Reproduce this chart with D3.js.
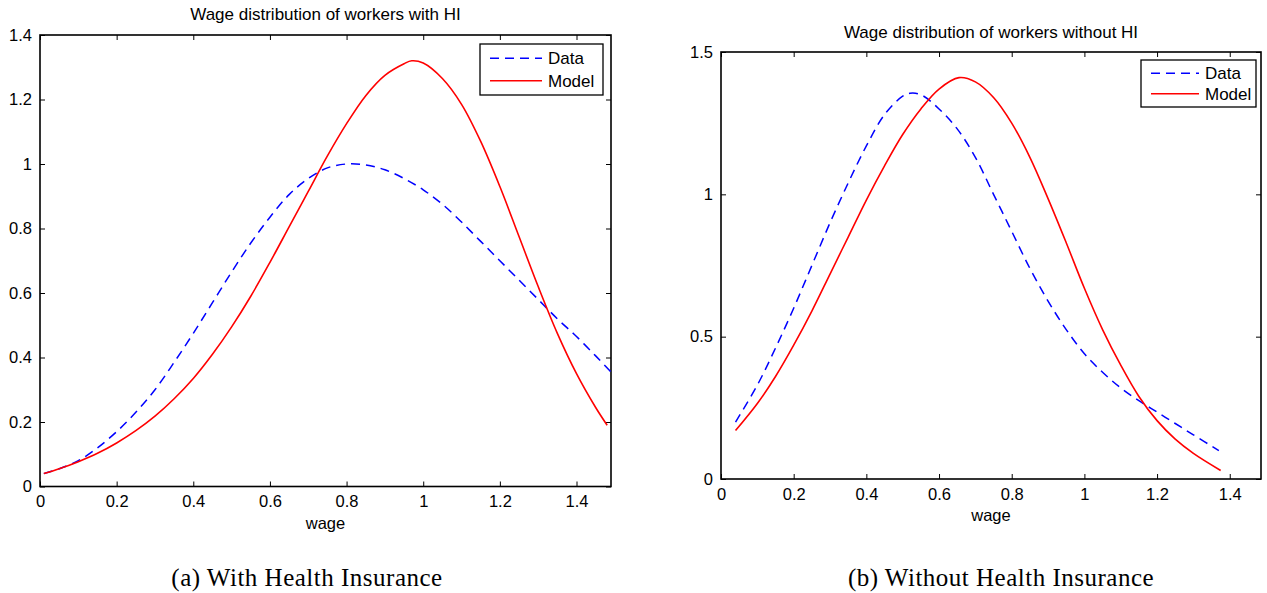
<!DOCTYPE html>
<html><head><meta charset="utf-8">
<script src="https://d3js.org/d3.v7.min.js"></script>
<style>body{margin:0;background:#fff}svg{display:block}</style>
</head><body>
<svg id="c" width="1267" height="593"></svg>
<script>
// Panel (a): with health insurance
const hiDataX  = [0.01,0.05,0.1,0.15,0.2,0.25,0.3,0.35,0.4,0.45,0.5,0.55,0.6,0.65,0.7,0.75,0.8,0.85,0.9,0.95,1.0,1.05,1.1,1.15,1.2,1.25,1.3,1.35,1.4,1.45,1.49];
const hiDataY  = [0.04,0.055,0.08,0.12,0.17,0.23,0.30,0.385,0.475,0.57,0.665,0.755,0.835,0.905,0.955,0.988,1.0,0.997,0.982,0.955,0.92,0.875,0.82,0.76,0.70,0.64,0.58,0.52,0.465,0.405,0.355];
const hiModelX = [0.01,0.05,0.1,0.15,0.2,0.25,0.3,0.35,0.4,0.45,0.5,0.55,0.6,0.65,0.7,0.75,0.8,0.85,0.9,0.95,0.97,1.0,1.05,1.1,1.15,1.2,1.25,1.3,1.35,1.4,1.45,1.48];
const hiModelY = [0.04,0.055,0.077,0.103,0.135,0.173,0.218,0.272,0.335,0.41,0.495,0.59,0.695,0.805,0.915,1.025,1.125,1.212,1.275,1.311,1.32,1.313,1.265,1.185,1.07,0.93,0.775,0.62,0.475,0.35,0.245,0.19];
// Panel (b): without health insurance
const noDataX  = [0.04,0.1,0.15,0.2,0.25,0.3,0.35,0.4,0.45,0.5,0.52,0.55,0.6,0.65,0.7,0.75,0.8,0.85,0.9,0.95,1.0,1.05,1.1,1.15,1.2,1.25,1.3,1.37];
const noDataY  = [0.20,0.33,0.46,0.60,0.75,0.90,1.04,1.17,1.28,1.345,1.355,1.35,1.30,1.23,1.13,1.00,0.87,0.74,0.625,0.525,0.44,0.375,0.32,0.275,0.235,0.195,0.155,0.10];
const noModelX = [0.04,0.1,0.15,0.2,0.25,0.3,0.35,0.4,0.45,0.5,0.55,0.6,0.655,0.7,0.75,0.8,0.85,0.9,0.95,1.0,1.05,1.1,1.15,1.2,1.25,1.3,1.375];
const noModelY = [0.17,0.265,0.36,0.47,0.59,0.72,0.85,0.98,1.10,1.21,1.30,1.37,1.41,1.395,1.34,1.25,1.13,0.985,0.83,0.67,0.525,0.40,0.29,0.205,0.14,0.09,0.03];

const xTicks = [0,0.2,0.4,0.6,0.8,1,1.2,1.4];
const yTicksA = [0,0.2,0.4,0.6,0.8,1,1.2,1.4];
const yTicksB = [0,0.5,1,1.5];
const seriesNames = ["Data","Model"];
const titles = ["Wage distribution of workers with HI","Wage distribution of workers without HI"];
const captions = ["(a) With Health Insurance","(b) Without Health Insurance"];

const svg = d3.select("#c");
const SANS = "'Liberation Sans', Arial, sans-serif";

function panel(o){
  const g = svg.append("g");
  const x = d3.scaleLinear().domain(o.xd).range([o.l,o.r]);
  const y = d3.scaleLinear().domain(o.yd).range([o.b,o.t]);
  const fmt = d => String(d);
  const ax = [
    [d3.axisBottom(x).tickValues(xTicks).tickSizeInner(-5).tickSizeOuter(0).tickPadding(9).tickFormat(fmt), `translate(0,${o.b})`],
    [d3.axisTop(x).tickValues(xTicks).tickSizeInner(-5).tickSizeOuter(0).tickFormat(""), `translate(0,${o.t})`],
    [d3.axisLeft(y).tickValues(o.yt).tickSizeInner(-5).tickSizeOuter(0).tickPadding(8).tickFormat(fmt), `translate(${o.l},0)`],
    [d3.axisRight(y).tickValues(o.yt).tickSizeInner(-5).tickSizeOuter(0).tickFormat(""), `translate(${o.r},0)`]
  ];
  ax.forEach(([a,tr])=>{
    const ag = g.append("g").attr("transform",tr).call(a);
    ag.select(".domain").remove();
    ag.selectAll("line").attr("stroke","#000").attr("stroke-width",1);
    ag.selectAll("text").attr("font-family",SANS).attr("font-size",16.5).attr("fill","#000");
  });
  g.append("rect").attr("x",o.l).attr("y",o.t).attr("width",o.r-o.l).attr("height",o.b-o.t)
    .attr("fill","none").attr("stroke","#000").attr("stroke-width",1.6);
  const line = d3.line().x(d=>x(d[0])).y(d=>y(d[1])).curve(d3.curveCatmullRom.alpha(0.5));
  g.append("path").datum(d3.zip(o.dx,o.dy)).attr("d",line).attr("fill","none")
    .attr("stroke","#0000ff").attr("stroke-width",1.5).attr("stroke-dasharray","9,6");
  g.append("path").datum(d3.zip(o.mx,o.my)).attr("d",line).attr("fill","none")
    .attr("stroke","#ff0000").attr("stroke-width",1.6);
  g.append("text").attr("x",(o.l+o.r)/2).attr("y",o.ty).attr("text-anchor","middle")
    .attr("font-family",SANS).attr("font-size",17).attr("fill","#000").text(o.title);
  g.append("text").attr("x",(o.l+o.r)/2).attr("y",o.b+42).attr("text-anchor","middle")
    .attr("font-family",SANS).attr("font-size",16.5).attr("fill","#000").text("wage");
  g.append("text").attr("x",o.cx).attr("y",586).attr("text-anchor","middle")
    .attr("font-family","'Liberation Serif',serif").attr("font-size",25).attr("letter-spacing",0.5)
    .attr("fill","#000").text(o.caption);
  const L = o.leg;
  g.append("rect").attr("x",L.x).attr("y",L.y).attr("width",L.w).attr("height",L.h)
    .attr("fill","#fff").attr("stroke","#000").attr("stroke-width",1.3);
  seriesNames.forEach((n,i)=>{
    const yy = L.y + L.h*0.28 + i*L.h*0.44;
    g.append("line").attr("x1",L.x+10).attr("x2",L.x+10+L.s).attr("y1",yy).attr("y2",yy)
      .attr("stroke", i===0?"#0000ff":"#ff0000").attr("stroke-width",1.5)
      .attr("stroke-dasharray", i===0?"9,6":null);
    g.append("text").attr("x",L.x+16+L.s).attr("y",yy+6).attr("font-family",SANS).attr("font-size",17)
      .attr("fill","#000").text(n);
  });
}

panel({l:40,r:611,t:35,b:486.5,xd:[0,1.49],yd:[0,1.4],yt:yTicksA,ty:20,
  dx:hiDataX,dy:hiDataY,mx:hiModelX,my:hiModelY,title:titles[0],caption:captions[0],cx:307,
  leg:{x:480,y:44,w:123,h:51,s:52}});
panel({l:721,r:1261,t:52,b:479,xd:[0,1.486],yd:[0,1.5],yt:yTicksB,ty:38,
  dx:noDataX,dy:noDataY,mx:noModelX,my:noModelY,title:titles[1],caption:captions[1],cx:1001,
  leg:{x:1141,y:60,w:115,h:47,s:48}});
</script>
</body></html>
